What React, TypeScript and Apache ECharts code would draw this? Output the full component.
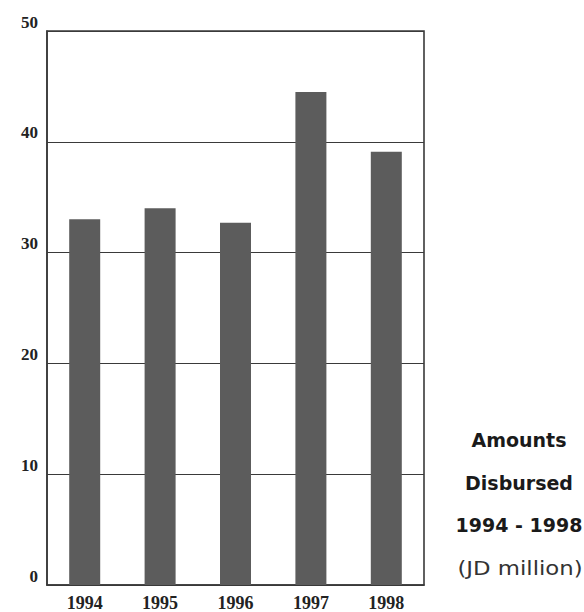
import React, { useEffect, useRef } from "react";
import * as echarts from "echarts";

const years = ["1994", "1995", "1996", "1997", "1998"];
const disbursed = [33.0, 34.0, 32.7, 44.5, 39.1];
const yTicks = { min: 0, max: 50, interval: 10 };
const captionLines = ["Amounts", "Disbursed", "1994 - 1998"];
const unitLine = "(JD million)";

export default function App() {
  const ref = useRef<HTMLDivElement>(null);

  useEffect(() => {
    if (!ref.current) return;
    const chart = echarts.init(ref.current, undefined, { renderer: "svg" });
    const captionFont = '"DejaVu Sans", "Open Sans", sans-serif';
    const serif = '"Liberation Serif", "Times New Roman", serif';
    chart.setOption({
      animation: false,
      backgroundColor: "#ffffff",
      grid: {
        left: 47,
        right: 160,
        top: 31,
        bottom: 26,
        show: true,
        borderColor: "#3a3a3a",
        borderWidth: 1.6,
        backgroundColor: "transparent",
      },
      xAxis: {
        type: "category",
        data: years,
        axisLine: { show: true, lineStyle: { color: "#3a3a3a", width: 1.6 } },
        axisTick: { show: false },
        axisLabel: {
          color: "#222",
          fontFamily: serif,
          fontWeight: "bold",
          fontSize: 18,
          margin: 9,
        },
      },
      yAxis: {
        type: "value",
        min: yTicks.min,
        max: yTicks.max,
        interval: yTicks.interval,
        axisLine: { show: true, lineStyle: { color: "#3a3a3a", width: 1.6 } },
        axisTick: { show: false },
        splitLine: { show: true, lineStyle: { color: "#3a3a3a", width: 1 } },
        axisLabel: {
          color: "#222",
          fontFamily: serif,
          fontWeight: "bold",
          fontSize: 17,
          lineHeight: 18,
          margin: 9,
          verticalAlign: "bottom",
        },
      },
      series: [
        {
          type: "bar",
          data: disbursed,
          barWidth: 31,
          itemStyle: { color: "#5c5c5c" },
        },
      ],
      graphic: [
        ...captionLines.map((t, i) => ({
          type: "text",
          x: 519,
          y: 440 + i * 42.5,
          style: {
            text: t,
            fill: "#1a1a1a",
            font: `bold 19px ${captionFont}`,
            textAlign: "center",
            textVerticalAlign: "middle",
          },
        })),
        {
          type: "text",
          x: 520,
          y: 569,
          scaleX: 1.2,
          style: {
            text: unitLine,
            fill: "#333",
            font: `19px ${captionFont}`,
            textAlign: "center",
            textVerticalAlign: "middle",
          },
        },
      ],
    });
    return () => chart.dispose();
  }, []);

  return (
    <div
      ref={ref}
      style={{ position: "fixed", left: 0, top: 0, width: 584, height: 612 }}
    />
  );
}
